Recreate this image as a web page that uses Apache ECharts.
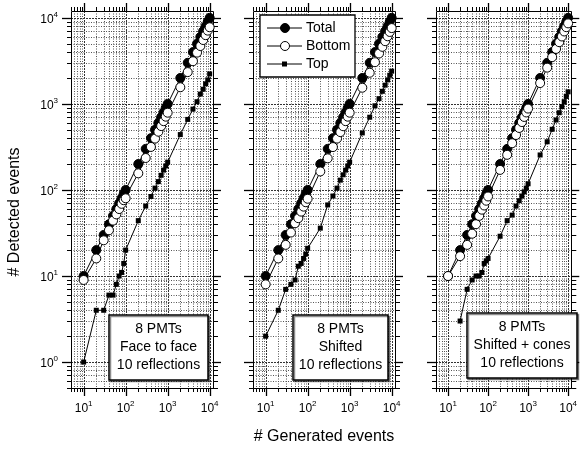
<!DOCTYPE html>
<html>
<head>
<meta charset="utf-8">
<script src="https://cdn.jsdelivr.net/npm/echarts@6/dist/echarts.min.js"></script>
<style>
  html, body { margin: 0; padding: 0; background: #fff; }
  #chart { width: 580px; height: 450px; }
</style>
</head>
<body>
<div id="chart"></div>
<script>
// Number of generated events (shared x values of every panel)
const generated = [10, 20, 30, 40, 50, 60, 70, 80, 90, 100,
  200, 300, 400, 500, 600, 700, 800, 900, 1000,
  2000, 3000, 4000, 5000, 6000, 7000, 8000, 9000, 10000];

// Panel 1: 8 PMTs, face to face
const totalFace = [10, 20, 30, 40, 50, 60, 70, 80, 90, 100,
  200, 300, 400, 500, 600, 700, 800, 900, 1000,
  2000, 3000, 4000, 5000, 6000, 7000, 8000, 9000, 10000];
const bottomFace = [9, 16, 26, 34, 44, 52, 60, 69, 76, 80,
  156, 235, 316, 395, 475, 552, 630, 710, 790,
  1560, 2340, 3130, 3940, 4700, 5520, 6290, 7100, 7770];
const topFace = [1, 4, 4, 6, 6, 8, 10, 11, 14, 20,
  44, 65, 84, 105, 125, 148, 170, 190, 210,
  440, 660, 870, 1060, 1300, 1480, 1710, 1900, 2230];

// Panel 2: 8 PMTs, shifted
const totalShift = [10, 20, 30, 40, 50, 60, 70, 80, 90, 100,
  200, 300, 400, 500, 600, 700, 800, 900, 1000,
  2000, 3000, 4000, 5000, 6000, 7000, 8000, 9000, 10000];
const bottomShift = [8, 16, 23, 32, 41, 47, 56, 64, 72, 79,
  164, 233, 315, 395, 470, 550, 630, 710, 790,
  1540, 2300, 3050, 3850, 4600, 5350, 6100, 6850, 7600];
const topShift = [2, 4, 7, 8, 9, 13, 14, 16, 18, 21,
  36, 67, 85, 105, 130, 150, 170, 190, 210,
  460, 700, 950, 1150, 1400, 1650, 1900, 2150, 2400];

// Panel 3: 8 PMTs, shifted + cones (no top hit at 10 events)
const totalCones = [10, 20, 30, 40, 50, 60, 70, 80, 90, 100,
  200, 300, 400, 500, 600, 700, 800, 900, 1000,
  2000, 3000, 4000, 5000, 6000, 7000, 8000, 9000, 10000];
const bottomCones = [10, 17, 23, 31, 40, 50, 59, 66, 75, 84,
  171, 256, 349, 435, 525, 615, 705, 795, 882,
  1745, 2637, 3493, 4350, 5210, 6070, 6940, 7780, 8620];
const topCones = ['-', 3, 7, 9, 10, 10, 11, 14, 15, 16,
  29, 44, 51, 65, 75, 85, 95, 105, 118,
  255, 363, 507, 650, 790, 930, 1060, 1220, 1380];

const seriesNames = ['Total', 'Bottom', 'Top'];
const panelNotes = [
  ['8 PMTs', 'Face to face', '10 reflections'],
  ['8 PMTs', 'Shifted', '10 reflections'],
  ['8 PMTs', 'Shifted + cones', '10 reflections']
];
const xTitle = '# Generated events';
const yTitle = '# Detected events';

// Log grid positions (1..9 per decade) and the labelled decades
const xGridValues = [5, 6, 7, 8, 9, 10, 20, 30, 40, 50, 60, 70, 80, 90,
  100, 200, 300, 400, 500, 600, 700, 800, 900,
  1000, 2000, 3000, 4000, 5000, 6000, 7000, 8000, 9000, 10000];
const yGridValues = [0.5, 0.6, 0.7, 0.8, 0.9, 1, 2, 3, 4, 5, 6, 7, 8, 9,
  10, 20, 30, 40, 50, 60, 70, 80, 90, 100, 200, 300, 400, 500, 600, 700, 800, 900,
  1000, 2000, 3000, 4000, 5000, 6000, 7000, 8000, 9000, 10000];
const xRange = [5, 12000];
const yRange = [0.5, 12000];

const FONT = 'Liberation Sans, Arial, Helvetica, sans-serif';
const panels = [
  { total: totalFace, bottom: bottomFace, top: topFace },
  { total: totalShift, bottom: bottomShift, top: topShift },
  { total: totalCones, bottom: bottomCones, top: topCones }
];
const gridLefts = [71, 253, 436];
const GRID_TOP = 11, GRID_W = 142, GRID_H = 377;
const ZTOP = 100;

const isDecade = v => {
  const e = Math.log10(v);
  return Math.abs(e - Math.round(e)) < 1e-6;
};
const powerLabel = v => isDecade(v) ? '{b|10}{s|' + Math.round(Math.log10(v)) + '}' : '';
const labelRich = {
  b: { fontSize: 12, fontFamily: FONT, color: '#000', lineHeight: 15, verticalAlign: 'bottom' },
  s: { fontSize: 8, fontFamily: FONT, color: '#000', lineHeight: 9, verticalAlign: 'top' }
};

// Dotted log grid, outward ticks on all four sides and the panel frame
function renderFrame(params, api) {
  const cs = params.coordSys;
  const L = cs.x, T = cs.y, R = cs.x + cs.width, B = cs.y + cs.height;
  const kids = [];
  const snap = p => Math.round(p) + 0.5;
  const line = (x1, y1, x2, y2, style) => ({
    type: 'line', silent: true, shape: { x1, y1, x2, y2 }, style
  });
  const gridStyle = major => ({
    stroke: major ? '#333' : '#555', lineWidth: 1, lineDash: major ? [2, 1] : [1, 1.5]
  });
  const tickStyle = major => ({ stroke: '#000', lineWidth: major ? 1.3 : 1 });

  xGridValues.forEach(v => {
    const x = snap(api.coord([v, 1])[0]);
    const major = isDecade(v);
    if (x > L + 1 && x < R - 1) kids.push(line(x, T, x, B, gridStyle(major)));
    const len = major ? 8 : 4;
    kids.push(line(x, B, x, B + len, tickStyle(major)));
    kids.push(line(x, T, x, T - len, tickStyle(major)));
  });
  yGridValues.forEach(v => {
    const y = snap(api.coord([10, v])[1]);
    const major = isDecade(v);
    if (y > T + 1 && y < B - 1) kids.push(line(L, y, R, y, gridStyle(major)));
    kids.push(line(L - (major ? 9 : 4), y, L, y, tickStyle(major)));
    kids.push(line(R, y, R + (major ? 8 : 5), y, tickStyle(major)));
  });
  kids.push({
    type: 'rect', silent: true,
    shape: { x: Math.round(L) + 0.5, y: Math.round(T) + 0.5, width: Math.round(R - L), height: Math.round(B - T) },
    style: { fill: 'none', stroke: '#000', lineWidth: 1 }
  });
  return { type: 'group', children: kids };
}

const grid = [], xAxis = [], yAxis = [], series = [], graphic = [];

panels.forEach((p, i) => {
  grid.push({ left: gridLefts[i], top: GRID_TOP, width: GRID_W, height: GRID_H });
  xAxis.push({
    type: 'log', logBase: 10, gridIndex: i, min: xRange[0], max: xRange[1],
    axisLine: { show: false }, axisTick: { show: false },
    splitLine: { show: false }, minorTick: { show: false }, minorSplitLine: { show: false },
    axisLabel: { margin: 12, formatter: powerLabel, rich: labelRich }
  });
  yAxis.push({
    type: 'log', logBase: 10, gridIndex: i, min: yRange[0], max: yRange[1],
    axisLine: { show: false }, axisTick: { show: false },
    splitLine: { show: false }, minorTick: { show: false }, minorSplitLine: { show: false },
    axisLabel: { show: i === 0, margin: 13, formatter: powerLabel, rich: labelRich }
  });

  series.push({
    type: 'custom', xAxisIndex: i, yAxisIndex: i, z: 1, silent: true,
    data: [[100, 100]], encode: { x: 0, y: 1 },
    renderItem: renderFrame
  });

  const pairs = arr => generated.map((g, k) => [g, arr[k]]);
  series.push({
    name: seriesNames[0], type: 'line', xAxisIndex: i, yAxisIndex: i, z: 3,
    data: pairs(p.total), symbol: 'circle', symbolSize: 9,
    lineStyle: { color: '#000', width: 1 },
    itemStyle: { color: '#000', borderColor: '#000', borderWidth: 1 },
    animation: false
  });
  series.push({
    name: seriesNames[1], type: 'line', xAxisIndex: i, yAxisIndex: i, z: 3,
    data: pairs(p.bottom), symbol: 'circle', symbolSize: 9,
    lineStyle: { color: '#000', width: 1 },
    itemStyle: { color: '#fff', borderColor: '#000', borderWidth: 1 },
    animation: false
  });
  series.push({
    name: seriesNames[2], type: 'line', xAxisIndex: i, yAxisIndex: i, z: 3,
    data: pairs(p.top), symbol: 'rect', symbolSize: 5, connectNulls: true,
    lineStyle: { color: '#000', width: 1 },
    itemStyle: { color: '#000' },
    animation: false
  });
});

// Text boxes describing each configuration
const noteBoxes = [
  { x: 109, y: 315, w: 99, h: 65 },
  { x: 293, y: 315, w: 95, h: 65 },
  { x: 467, y: 313, w: 110, h: 65 }
];
noteBoxes.forEach((b, i) => {
  graphic.push({
    type: 'rect', z: ZTOP, shape: { x: b.x, y: b.y, width: b.w, height: b.h },
    style: { fill: '#fff', stroke: '#000', lineWidth: 1.5,
      shadowColor: 'rgba(0,0,0,0.45)', shadowOffsetX: 1.5, shadowOffsetY: 1.5, shadowBlur: 0 }
  });
  graphic.push({
    type: 'text', z: ZTOP + 1, x: b.x + b.w / 2, y: b.y + b.h / 2,
    style: { text: panelNotes[i].join('\n'), font: '14px ' + FONT, fill: '#000',
      align: 'center', verticalAlign: 'middle', lineHeight: 18 }
  });
});

// Legend drawn as a boxed key in the middle panel
const legendBox = { x: 260, y: 15, w: 95, h: 62 };
graphic.push({
  type: 'rect', z: ZTOP, shape: { x: legendBox.x, y: legendBox.y, width: legendBox.w, height: legendBox.h },
  style: { fill: '#fff', stroke: '#000', lineWidth: 1.3 }
});
seriesNames.forEach((name, k) => {
  const cy = legendBox.y + 13 + k * 18;
  const lx = legendBox.x;
  graphic.push({ type: 'line', z: ZTOP + 1, shape: { x1: lx + 7, y1: cy, x2: lx + 42, y2: cy },
    style: { stroke: '#000', lineWidth: 1 } });
  if (k === 2) {
    graphic.push({ type: 'rect', z: ZTOP + 2, shape: { x: lx + 22, y: cy - 2.5, width: 5, height: 5 },
      style: { fill: '#000' } });
  } else {
    graphic.push({ type: 'circle', z: ZTOP + 2, shape: { cx: lx + 25, cy: cy, r: 4.5 },
      style: { fill: k === 0 ? '#000' : '#fff', stroke: '#000', lineWidth: 1 } });
  }
  graphic.push({ type: 'text', z: ZTOP + 2, x: lx + 46, y: cy,
    style: { text: name, font: '14px ' + FONT, fill: '#000', align: 'left', verticalAlign: 'middle' } });
});

// Axis titles
graphic.push({ type: 'text', x: 15, y: 212, rotation: Math.PI / 2, z: ZTOP,
  style: { text: yTitle, font: '16px ' + FONT, fill: '#000', align: 'center', verticalAlign: 'middle' } });
graphic.push({ type: 'text', x: 324, y: 437, z: ZTOP,
  style: { text: xTitle, font: '16px ' + FONT, fill: '#000', align: 'center', verticalAlign: 'middle' } });

const chart = echarts.init(document.getElementById('chart'), null, { renderer: 'canvas' });
chart.setOption({
  animation: false,
  backgroundColor: '#fff',
  grid, xAxis, yAxis, series, graphic
});
</script>
</body>
</html>
